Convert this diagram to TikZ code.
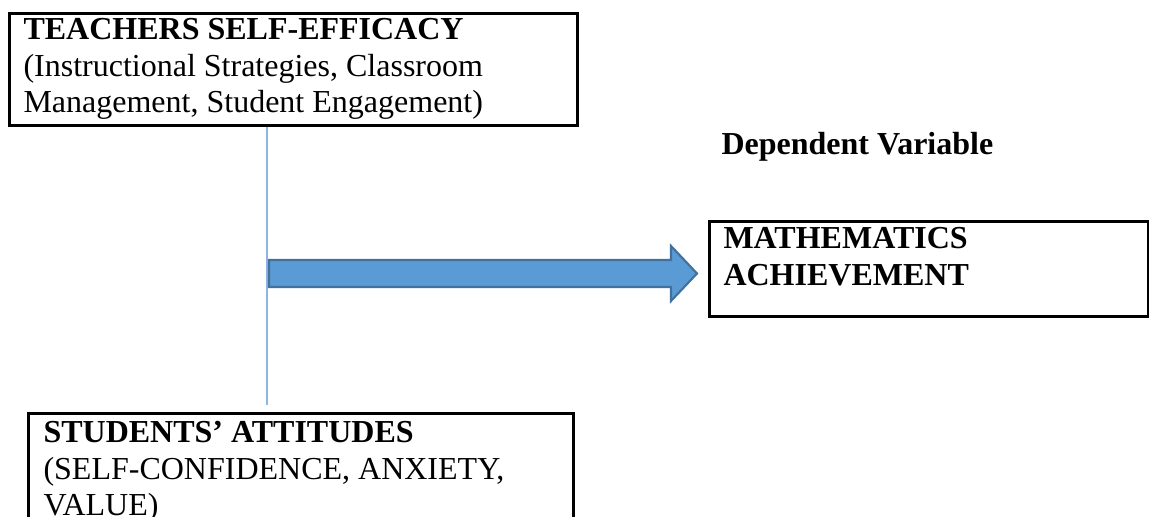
\documentclass[tikz,border=0pt]{standalone}
\usepackage{fontspec}
\setmainfont{Liberation Serif}
\usetikzlibrary{positioning}

\definecolor{arrowfill}{HTML}{5B9BD5}
\definecolor{arrowline}{HTML}{41719C}
\definecolor{stemblue}{HTML}{8FB4E3}

\tikzset{
  box/.style={draw, line width=1pt, rectangle, inner sep=0pt, anchor=north west},
  label text/.style={inner sep=0pt, anchor=north west, align=left,
    font=\fontsize{12}{13.8}\selectfont},
  blockarrow/.style={fill=arrowfill, draw=arrowline, line width=0.8pt, line join=miter},
  stemline/.style={draw=stemblue, line width=0.5pt}
}

\begin{document}
\begin{tikzpicture}[x=0.375pt, y=-0.375pt]
    \useasboundingbox (0,0) rectangle (1149,517);
    \clip (0,0) rectangle (1149,517);
    % boxes
    \node (tse) [box, minimum width=213pt, minimum height=42pt] at (8,12) {};
    \node (ach) [box, minimum width=164.6pt, minimum height=35.6pt] at (708,220) {};
    \node (att) [box, minimum width=204.4pt, minimum height=60pt] at (27,412) {};
    % texts
    \node (tsetext) [label text] at (23,17.5)
      {\textbf{TEACHERS SELF-EFFICACY}\\(Instructional Strategies, Classroom\\Management, Student Engagement)};
    \node (achtext) [label text] at (723,226.5)
      {\textbf{MATHEMATICS}\\\textbf{ACHIEVEMENT}};
    \node (atttext) [label text] at (43,420.5)
      {\textbf{STUDENTS’ ATTITUDES}\\(SELF-CONFIDENCE, ANXIETY,\\VALUE)};
    \node (dep) [label text, anchor=base west] at (721,155) {\textbf{Dependent Variable}};
    % joining line and arrow
    \coordinate (stem) at (267,405);
    \path[stemline] (stem |- tse.south) -- (stem);
    \draw[blockarrow] (269,260) -- (671,260) -- (671,246) -- (697,273.5)
      -- (671,301) -- (671,287) -- (269,287) -- cycle;
\end{tikzpicture}
\end{document}
